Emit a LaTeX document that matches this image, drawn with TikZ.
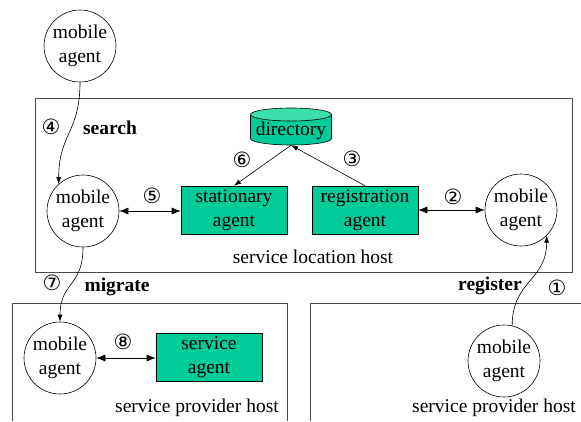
\documentclass[tikz,border=0pt]{standalone}
\usepackage{fontspec}
\setmainfont{Liberation Serif}
\newfontfamily\circfont{DejaVu Sans}
\usetikzlibrary{arrows.meta}
\definecolor{agentgreen}{RGB}{0,204,153}
\definecolor{dirtop}{RGB}{60,222,172}
\tikzset{
  mobile/.style={draw, circle, minimum size=72pt, inner sep=0pt, align=center},
  fixedagent/.style={draw, fill=agentgreen, minimum width=106pt, minimum height=48pt, inner sep=0pt, align=center},
  hostbox/.style={draw=black!70, line width=0.9pt},
  num/.style={font=\circfont\fontsize{21}{21}\selectfont, inner sep=0pt},
  tag/.style={font=\fontsize{19.5}{24}\selectfont\bfseries},
  link/.style={-{Latex[length=7pt,width=5pt]}},
  both/.style={{Latex[length=9pt,width=7pt]}-{Latex[length=9pt,width=7pt]}},
}
\begin{document}
\begin{tikzpicture}[x=1pt, y=-1pt, font=\fontsize{19.5}{24}\selectfont, line width=0.6pt]
\useasboundingbox (0,0) rectangle (581,421);
% hosts
\draw[hostbox] (35,98) rectangle (572,272);
\draw[hostbox] (12,421) -- (12,303) -- (287,303) -- (287,421);
\draw[hostbox] (310,421) -- (310,303) -- (581,303);
% service location host
\node[mobile] (visitor) at (80,46) {mobile\\agent};
\node[mobile] (searcher) at (83,211) {mobile\\agent};
\node[fixedagent] (stationary) at (234,210) {stationary\\agent};
\node[fixedagent] (registrar) at (365,210) {registration\\agent};
\node[mobile] (newcomer) at (521,210) {mobile\\agent};
% directory cylinder
\node[minimum width=81pt, minimum height=37pt, inner sep=0pt] (directory) at (291,126.5) {};
\draw[fill=agentgreen] (250.5,114.5) -- (250.5,138.5)
  arc[start angle=180, end angle=360, x radius=40.5pt, y radius=6.5pt] -- (331.5,114.5);
\draw[fill=dirtop] (291,114.5) ellipse[x radius=40.5pt, y radius=6.5pt];
\node (dirlabel) at (291,131) {directory};
\node (slhlabel) at (313,257) {service location host};
% service provider hosts
\node[mobile] (migrant) at (60,358) {mobile\\agent};
\node[fixedagent] (service) at (209,357) {service\\agent};
\node (sphleft) at (197,408) {service provider host};
\node[mobile] (provider) at (504,361) {mobile\\agent};
\node (sphright) at (494,408) {service provider host};
% tags and steps
\node[tag] (searchtag) at (110,128) {search};
\node[tag] (migratetag) at (117,287) {migrate};
\node[tag] (registertag) at (490,286) {register};
\node[num] (n1) at (557,288) {①};
\node[num] (n2) at (453,197) {②};
\node[num] (n3) at (352,159) {③};
\node[num] (n4) at (51,127) {④};
\node[num] (n5) at (152,196) {⑤};
\node[num] (n6) at (242,160) {⑥};
\node[num] (n7) at (52,283) {⑦};
\node[num] (n8) at (123,342) {⑧};
% connectors
\draw[both] (searcher.east) -- (searcher.east -| stationary.west);
\draw[both] (registrar.east) -- (registrar.east -| newcomer.west);
\draw[both] (migrant.east) -- (migrant.east -| service.west);
\draw[link] (directory.south) -- (stationary.north);
\draw[link] (registrar.north) -- (directory.south);
\draw[link] (visitor.south) .. controls +(0,50) and +(0,-50) .. (searcher.132);
\draw[link] (searcher.south) .. controls +(0,40) and +(0,-40) .. (migrant.north);
\draw[link] (provider.77) .. controls +(0,-45) and +(0,45) .. (newcomer.-45);
\end{tikzpicture}
\end{document}
